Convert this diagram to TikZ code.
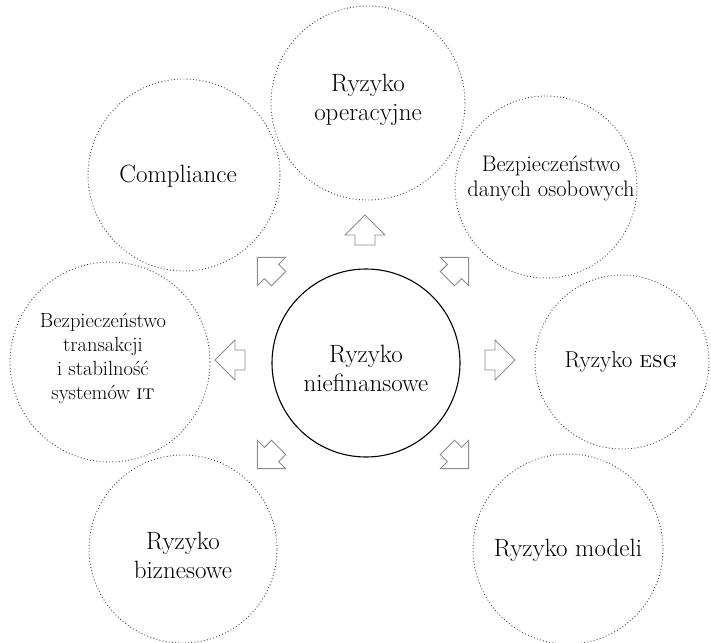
\documentclass[tikz,border=0pt]{standalone}
\usepackage{tikz}
\begin{document}
\begin{tikzpicture}[x=1pt,y=-1pt,
  outer/.style={circle,draw=black!75,line width=0.9pt,dash pattern=on 0.9pt off 2.3pt,inner sep=0pt},
  inner/.style={circle,draw=black,line width=1.1pt,inner sep=0pt},
  bigtxt/.style={align=center,font=\fontsize{25}{29}\selectfont,text=black},
  smalltxt/.style={align=center,font=\fontsize{20.5}{23.5}\selectfont,text=black},
  arrowline/.style={draw=black!45,line width=0.9pt,fill=white,line join=miter},
  blockarrow/.pic={\draw[arrowline] (0,-15) -- (20,5) -- (10,5) -- (10,15) -- (-10,15) -- (-10,5) -- (-20,5) -- cycle;}
]
\useasboundingbox (0,0) rectangle (711,642);
% circles
\node[inner,minimum size=188pt] (center) at (366,363) {};
\node[outer,minimum size=194pt] (top) at (368,103) {};
\node[outer,minimum size=192pt] (comp) at (184,175) {};
\node[outer,minimum size=182pt] (dane) at (546,187) {};
\node[outer,minimum size=200pt] (trans) at (110,362) {};
\node[outer,minimum size=174pt] (esg) at (622,362) {};
\node[outer,minimum size=188pt] (biz) at (183,549) {};
\node[outer,minimum size=190pt] (model) at (568,549) {};
% texts
\node[bigtxt] (tc) at (366,368) {Ryzyko\\niefinansowe};
\node[bigtxt] (tt) at (368,100) {Ryzyko\\operacyjne};
\node[bigtxt] (tcomp) at (178,176) {Compliance};
\node[smalltxt,font=\fontsize{22.5}{25}\selectfont] (tdane) at (551,178) {Bezpieczeństwo\\danych osobowych};
\node[smalltxt,font=\fontsize{20.5}{24}\selectfont] (ttrans) at (103,358) {Bezpieczeństwo\\transakcji\\i stabilność\\systemów \textsc{it}};
\node[bigtxt,font=\fontsize{23}{28}\selectfont] (tesg) at (621,362) {Ryzyko \textsc{esg}};
\node[bigtxt] (tbiz) at (183,555) {Ryzyko\\biznesowe};
\node[bigtxt] (tmodel) at (568,550) {Ryzyko modeli};
% arrows
\pic at (365,230) {blockarrow};
\pic[rotate=45] at (268,268) {blockarrow};
\pic[rotate=-45] at (458,268) {blockarrow};
\pic[rotate=90] at (230,360) {blockarrow};
\pic[rotate=-90] at (500,360) {blockarrow};
\pic[rotate=135] at (268,458) {blockarrow};
\pic[rotate=-135] at (458,458) {blockarrow};
\end{tikzpicture}
\end{document}
